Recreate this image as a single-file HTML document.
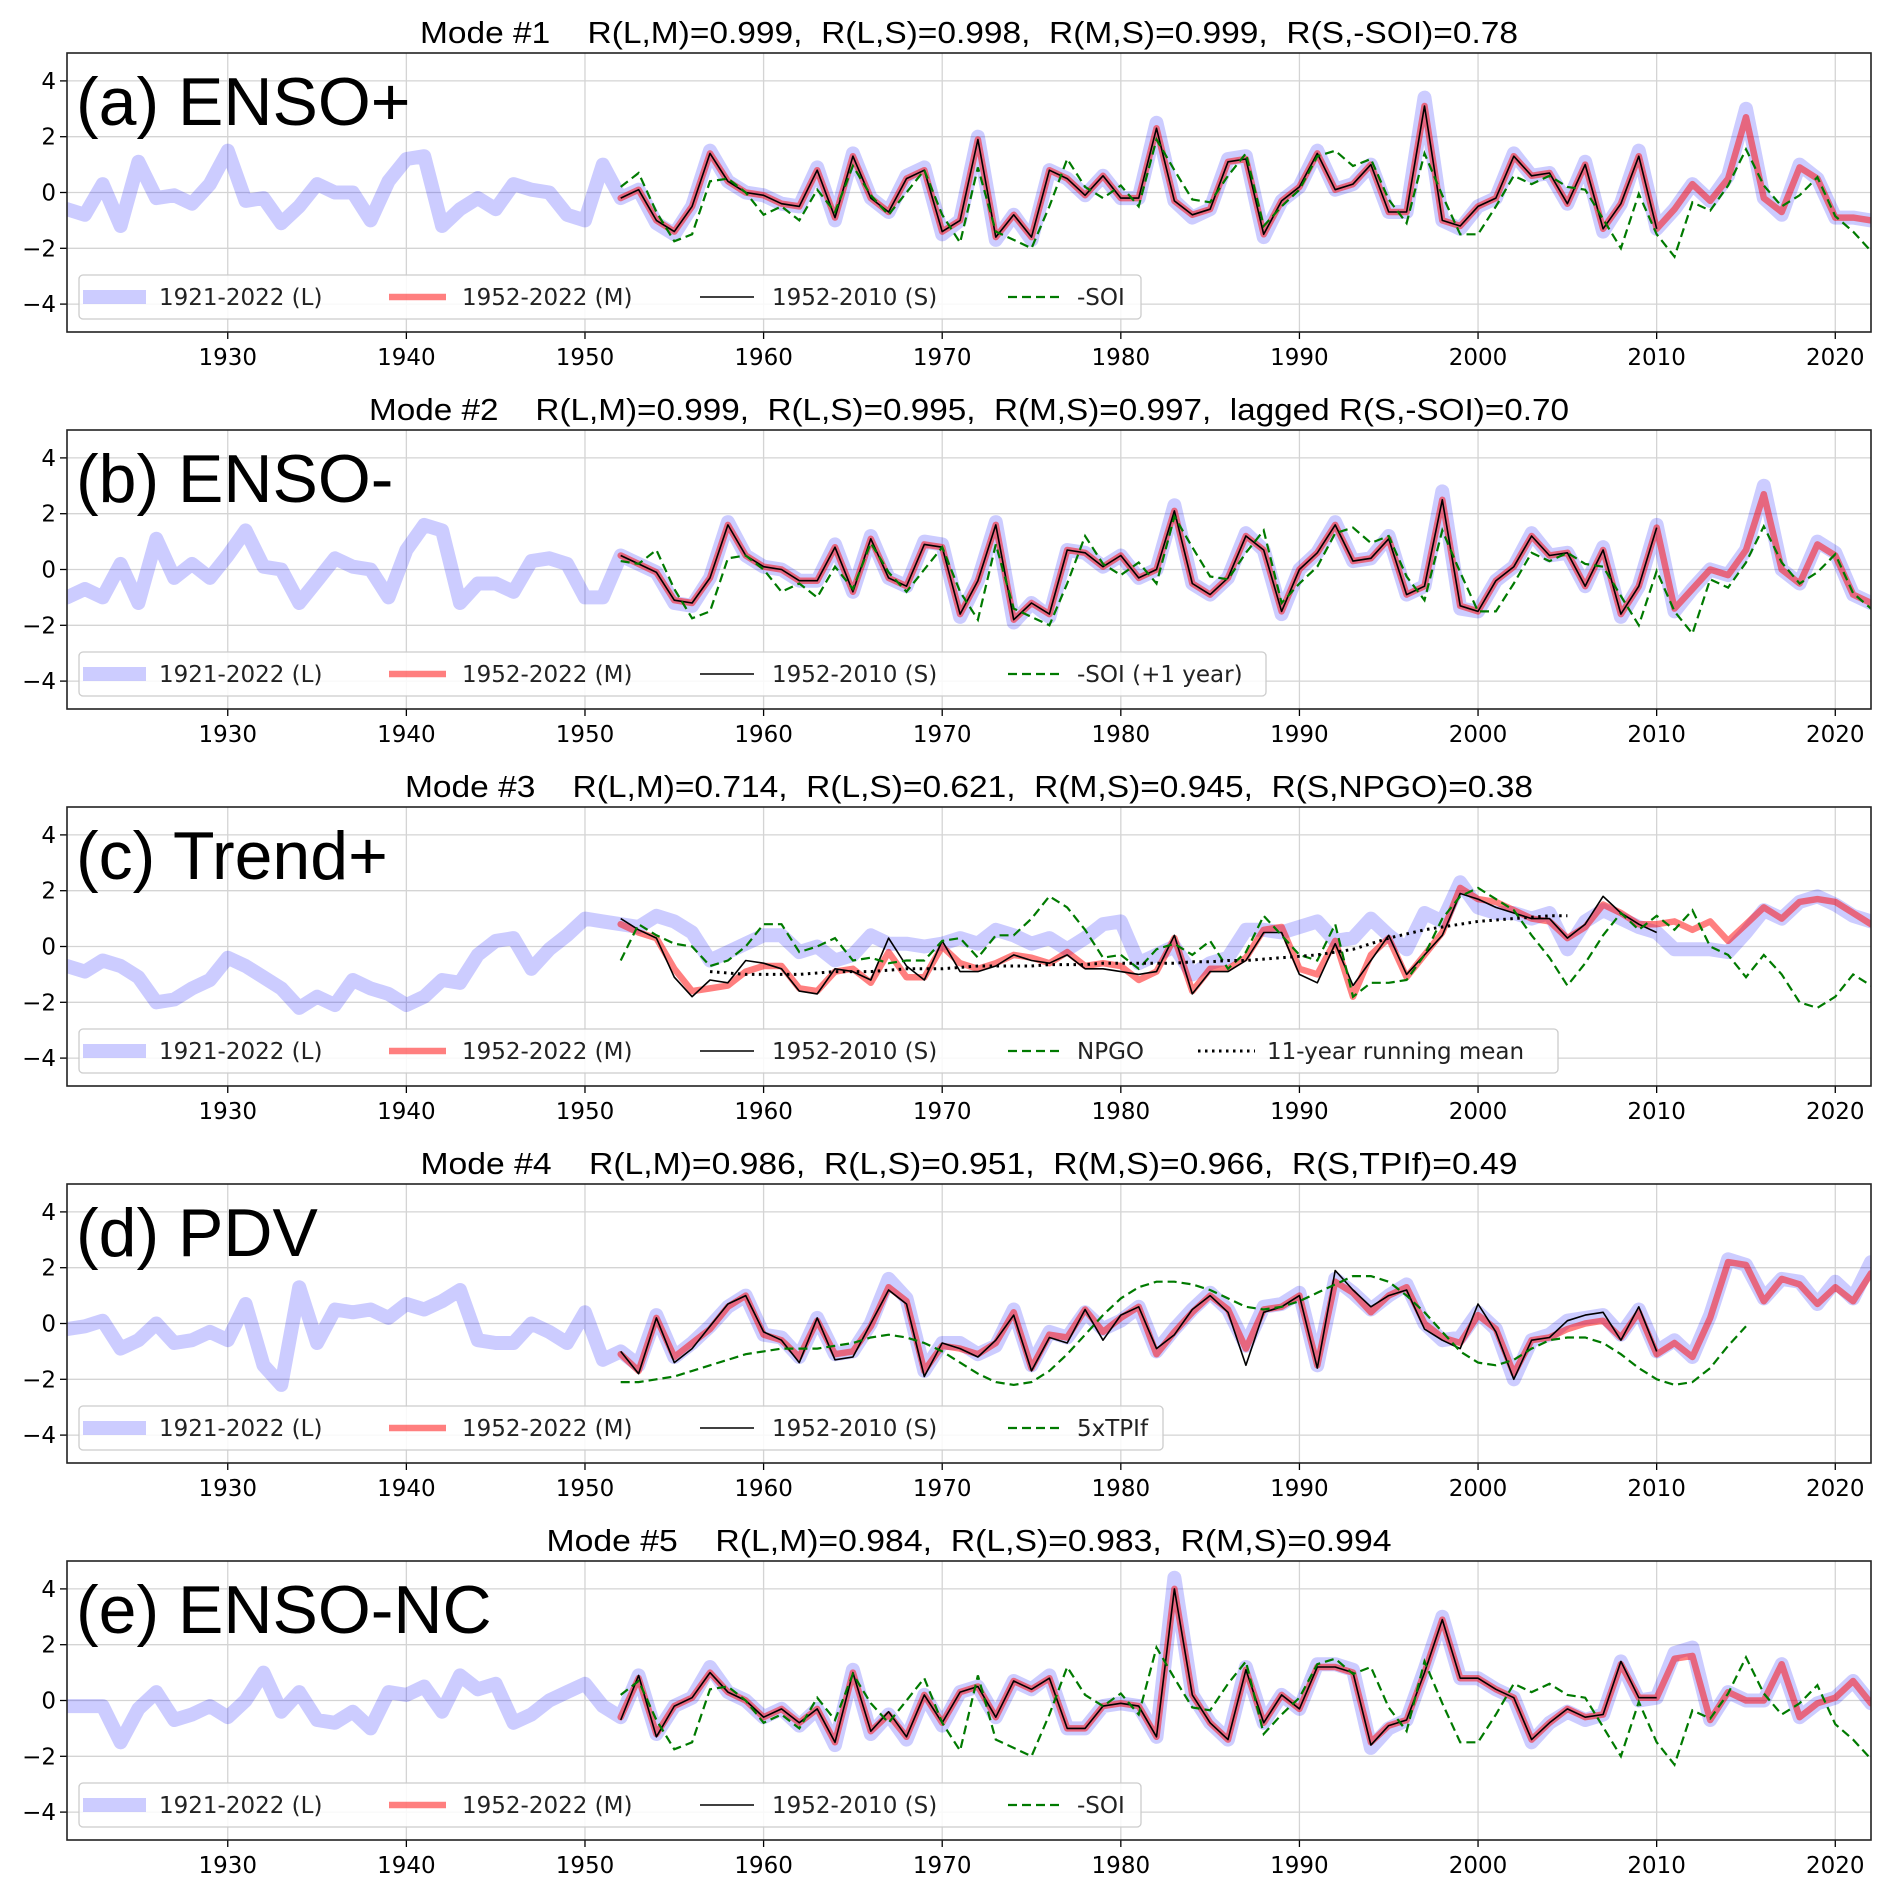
<!DOCTYPE html>
<html><head><meta charset="utf-8"><title>Modes</title>
<style>html,body{margin:0;padding:0;background:#fff}svg{display:block}text{white-space:pre}</style></head>
<body>
<svg id="chart" width="1892" height="1890" viewBox="0 0 1892 1890" xmlns="http://www.w3.org/2000/svg"></svg>
<script>
// ---------- data ----------
const xTicks = [1930,1940,1950,1960,1970,1980,1990,2000,2010,2020];
const yTicks = [-4,-2,0,2,4];
const yTickLabels = ["\u22124","\u22122","0","2","4"];
const startL = 1921, startM = 1952, startS = 1952;

const titles = [
 "Mode #1    R(L,M)=0.999,  R(L,S)=0.998,  R(M,S)=0.999,  R(S,-SOI)=0.78",
 "Mode #2    R(L,M)=0.999,  R(L,S)=0.995,  R(M,S)=0.997,  lagged R(S,-SOI)=0.70",
 "Mode #3    R(L,M)=0.714,  R(L,S)=0.621,  R(M,S)=0.945,  R(S,NPGO)=0.38",
 "Mode #4    R(L,M)=0.986,  R(L,S)=0.951,  R(M,S)=0.966,  R(S,TPIf)=0.49",
 "Mode #5    R(L,M)=0.984,  R(L,S)=0.983,  R(M,S)=0.994"
];
const titleWidths = [1098, 1200, 1128, 1097, 845];
const panelLabels = ["(a) ENSO+","(b) ENSO-","(c) Trend+","(d) PDV","(e) ENSO-NC"];
const refLabels = ["-SOI","-SOI (+1 year)","NPGO","5xTPIf","-SOI"];

// Panel a
const aL = [-0.6,-0.8,0.3,-1.2,1.1,-0.2,-0.1,-0.4,0.3,1.5, -0.3,-0.2,-1.1,-0.5,0.3,0.0,0.0,-1.0,0.4,1.2, 1.3,-1.2,-0.6,-0.2,-0.6,0.3,0.1,0.0,-0.8,-1.0, 1.0,
 -0.2,0.1,-1.1,-1.5,-0.5,1.5,0.4,0.0,-0.1,-0.4, -0.5,0.9,-1.0,1.4,-0.2,-0.7,0.6,0.9,-1.5,-1.0, 2.0,-1.7,-0.8,-1.7,0.8,0.5,-0.1,0.6,-0.2,-0.2, 2.5,-0.3,-0.9,-0.6,1.2,1.3,-1.6,-0.3,0.2,1.5, 0.1,0.3,1.0,-0.7,-0.7,3.4,-1.0,-1.3,-0.5,-0.2, 1.4,0.6,0.7,-0.4,1.1,-1.4,-0.4,1.5,-1.3,-0.6, 0.3,-0.3,0.6,3.0,-0.2,-0.8,1.0,0.5,-0.9,-0.9,-1.0];
const aM = [-0.2,0.1,-1.0,-1.4,-0.5,1.4,0.4,0.0,-0.1,-0.4, -0.5,0.8,-0.9,1.3,-0.2,-0.7,0.5,0.8,-1.4,-1.0, 1.9,-1.6,-0.8,-1.6,0.8,0.5,-0.1,0.6,-0.2,-0.2, 2.3,-0.3,-0.8,-0.6,1.1,1.2,-1.5,-0.3,0.2,1.4, 0.1,0.3,1.0,-0.7,-0.7,3.1,-1.0,-1.2,-0.5,-0.2, 1.3,0.6,0.7,-0.4,1.0,-1.3,-0.4,1.3,-1.3,-0.6, 0.3,-0.3,0.5,2.7,-0.2,-0.7,0.9,0.5,-0.9,-0.9,-1.0];
const aS = [-0.2,0.1,-1.0,-1.4,-0.5,1.4,0.4,0.0,-0.1,-0.4, -0.5,0.8,-0.9,1.3,-0.2,-0.7,0.5,0.8,-1.4,-1.0, 1.9,-1.6,-0.8,-1.6,0.8,0.5,-0.1,0.6,-0.2,-0.2, 2.3,-0.3,-0.8,-0.6,1.1,1.2,-1.5,-0.3,0.2,1.4, 0.1,0.3,1.0,-0.7,-0.7,3.1,-1.0,-1.2,-0.5,-0.2, 1.3,0.6,0.7,-0.4,1.0,-1.3,-0.4,1.3,-1.3];
const soi = [0.2,0.7,-0.7,-1.75,-1.5,0.4,0.5,0.0,-0.8,-0.5, -1.0,0.1,-0.7,0.95,-0.1,-0.8,0.0,0.8,-0.8,-1.8, 0.9,-1.4,-1.7,-2.0,-0.5,1.2,0.2,-0.2,0.25,-0.5, 1.9,0.8,-0.25,-0.35,0.6,1.4,-1.2,-0.5,0.1,1.3, 1.5,0.95,1.2,-0.25,-1.1,1.4,-0.1,-1.5,-1.5,-0.5, 0.6,0.3,0.6,0.2,0.1,-0.95,-2.0,-0.05,-1.5,-2.3, -0.35,-0.65,0.25,1.55,0.25,-0.5,-0.1,0.55,-0.85,-1.4,-2.1];
const soiStart = 1952;

// Panel b
const bL = [-1.0,-0.7,-1.0,0.2,-1.2,1.1,-0.3,0.2,-0.3,0.5, 1.4,0.1,0.0,-1.2,-0.4,0.4,0.1,0.0,-1.0,0.7, 1.6,1.4,-1.2,-0.5,-0.5,-0.8,0.3,0.4,0.2,-1.0, -1.0,
 0.5,0.2,-0.1,-1.2,-1.3,-0.3,1.7,0.5,0.1,0.0, -0.4,-0.4,0.9,-0.8,1.2,-0.3,-0.6,1.0,0.9,-1.7, -0.4,1.7,-1.9,-1.2,-1.7,0.7,0.6,0.1,0.5,-0.3, 0.0,2.3,-0.5,-0.9,-0.3,1.3,0.7,-1.6,0.0,0.6, 1.7,0.3,0.4,1.2,-0.9,-0.6,2.8,-1.4,-1.5,-0.4, 0.1,1.3,0.5,0.6,-0.6,0.8,-1.7,-0.6,1.6,-1.5, -0.7,0.0,-0.2,0.7,3.0,0.0,-0.5,1.0,0.6,-0.9,-1.2];
const bM = [0.5,0.2,-0.1,-1.1,-1.2,-0.3,1.6,0.5,0.1,0.0, -0.4,-0.4,0.8,-0.8,1.1,-0.3,-0.6,0.9,0.8,-1.6, -0.4,1.6,-1.8,-1.2,-1.6,0.7,0.6,0.1,0.5,-0.3, 0.0,2.1,-0.5,-0.9,-0.3,1.2,0.7,-1.5,0.0,0.6, 1.6,0.3,0.4,1.1,-0.9,-0.6,2.5,-1.3,-1.5,-0.4, 0.1,1.2,0.5,0.6,-0.6,0.7,-1.6,-0.6,1.5,-1.4, -0.7,0.0,-0.2,0.7,2.7,0.0,-0.5,0.9,0.5,-0.9,-1.2];
const bS = [0.5,0.2,-0.1,-1.1,-1.2,-0.3,1.6,0.5,0.1,0.0, -0.4,-0.4,0.8,-0.8,1.1,-0.3,-0.6,0.9,0.8,-1.6, -0.4,1.6,-1.8,-1.2,-1.6,0.7,0.6,0.1,0.5,-0.3, 0.0,2.1,-0.5,-0.9,-0.3,1.2,0.7,-1.5,0.0,0.6, 1.6,0.3,0.4,1.1,-0.9,-0.6,2.5,-1.3,-1.5,-0.4, 0.1,1.2,0.5,0.6,-0.6,0.7,-1.6,-0.6,1.5];
const soiLag = [0.3, 0.2,0.7,-0.7,-1.75,-1.5,0.4,0.5,0.0,-0.8, -0.5,-1.0,0.1,-0.7,0.95,-0.1,-0.8,0.0,0.8,-0.8, -1.8,0.9,-1.4,-1.7,-2.0,-0.5,1.2,0.2,-0.2,0.25, -0.5,1.9,0.8,-0.25,-0.35,0.6,1.4,-1.2,-0.5,0.1, 1.3,1.5,0.95,1.2,-0.25,-1.1,1.4,-0.1,-1.5,-1.5, -0.5,0.6,0.3,0.6,0.2,0.1,-0.95,-2.0,-0.05,-1.5, -2.3,-0.35,-0.65,0.25,1.55,0.25,-0.5,-0.1,0.55,-0.85,-1.4];

// Panel c
const cL = [-0.7,-0.9,-0.5,-0.7,-1.1,-2.0,-1.9,-1.5,-1.2,-0.4, -0.7,-1.1,-1.5,-2.2,-1.8,-2.1,-1.2,-1.5,-1.7,-2.1, -1.8,-1.2,-1.3,-0.3,0.2,0.3,-0.8,-0.1,0.4,1.0, 0.9,0.8,0.7,1.1,0.9,0.5,-0.5,-0.2,0.1,0.4, 0.4,-0.2,0.0,-0.5,-0.3,0.4,0.1,0.1,0.0,0.1, 0.3,0.1,0.6,0.4,0.1,0.3,-0.1,0.3,0.8,0.9, -0.6,-0.3,0.0,-1.0,-0.6,-0.4,0.6,0.6,0.5,0.7, 0.9,0.2,0.3,1.0,0.4,-0.1,1.2,0.9,2.3,1.4, 1.2,1.2,1.0,1.2,-0.1,0.9,1.3,1.0,0.7,0.5, -0.1,-0.1,-0.1,-0.2,0.5,1.3,1.0,1.6,1.8,1.5,1.1,0.9];
const cM = [0.8,0.5,0.3,-0.8,-1.6,-1.5,-1.4,-0.9,-0.7,-0.7, -1.5,-1.6,-0.9,-0.8,-1.3,-0.2,-1.1,-1.1,0.0,-0.6, -0.8,-0.6,-0.3,-0.4,-0.6,-0.2,-0.7,-0.6,-0.7,-1.2, -0.9,0.3,-1.6,-0.8,-0.8,-0.4,0.6,0.7,-0.8,-1.0, 0.2,-1.8,-0.3,0.3,-1.1,-0.3,0.5,2.1,1.7,1.6, 1.3,1.0,0.9,0.3,0.7,1.5,1.2,0.8,0.8,0.9, 0.6,0.9,0.2,0.8,1.4,1.0,1.6,1.7,1.6,1.2,0.8];
const cS = [1.0,0.6,0.3,-1.1,-1.8,-1.2,-1.3,-0.5,-0.6,-0.8, -1.6,-1.7,-0.8,-0.9,-1.2,0.3,-0.7,-1.2,0.2,-0.9, -0.9,-0.7,-0.3,-0.5,-0.6,-0.3,-0.8,-0.8,-0.9,-1.0, -0.9,0.4,-1.7,-0.9,-0.9,-0.5,0.5,0.5,-1.0,-1.3, 0.1,-1.4,-0.5,0.4,-1.0,-0.3,0.4,1.9,1.7,1.4, 1.2,1.0,1.0,0.3,0.8,1.8,1.2,0.8,0.5];
const npgo = [-0.5,0.8,0.4,0.1,0.0,-0.7,-0.5,0.0,0.8,0.8, -0.2,0.0,0.3,-0.5,-0.4,-0.6,-0.5,-0.5,0.2,0.3, -0.4,0.4,0.4,1.0,1.8,1.4,0.6,-0.4,-0.3,-0.8, -0.1,0.1,-0.3,0.2,-0.8,-0.2,1.1,0.4,-0.3,-0.5, 0.8,-1.8,-1.3,-1.3,-1.2,-0.3,1.0,1.8,2.1,1.7, 1.3,0.4,-0.4,-1.4,-0.6,0.4,1.2,0.6,1.1,0.6, 1.3,0.0,-0.3,-1.1,-0.3,-1.0,-2.0,-2.2,-1.8,-1.0,-1.4];
const runMean = [-0.9,-0.95,-1.0,-1.0,-1.0, -1.0,-0.95,-0.9,-0.9,-0.9, -0.85,-0.8,-0.8,-0.8,-0.75, -0.7,-0.7,-0.7,-0.7,-0.65, -0.65,-0.65,-0.6,-0.6,-0.6, -0.6,-0.6,-0.55,-0.55,-0.5, -0.5,-0.45,-0.4,-0.35,-0.3, -0.2,-0.1,0.1,0.3,0.45, 0.6,0.7,0.8,0.9,0.95, 1.0,1.05,1.1,1.1];
const runMeanStart = 1957;

// Panel d
const dL = [-0.2,-0.1,0.1,-0.9,-0.6,0.0,-0.7,-0.6,-0.3,-0.6, 0.7,-1.5,-2.2,1.3,-0.7,0.5,0.4,0.5,0.2,0.7, 0.5,0.8,1.2,-0.6,-0.7,-0.7,0.0,-0.3,-0.7,0.4, -1.3,-1.0,-1.5,0.3,-1.2,-0.7,-0.1,0.6,1.0,-0.4, -0.5,-1.2,0.2,-1.1,-1.0,0.0,1.6,0.9,-1.7,-0.7, -0.7,-1.1,-0.8,0.5,-1.5,-0.3,-0.5,0.4,-0.2,0.1, 0.6,-1.0,-0.2,0.5,1.1,0.5,-0.8,0.6,0.7,1.1, -1.5,1.6,1.1,0.5,1.0,1.4,0.0,-0.6,-0.5,0.4, -0.2,-2.0,-0.6,-0.4,0.1,0.2,0.3,-0.4,0.5,-1.0, -0.6,-1.2,0.3,2.3,2.1,0.9,1.6,1.5,0.7,1.5,0.9,2.2];
const dM = [-1.1,-1.7,0.2,-1.2,-0.7,-0.2,0.6,1.0,-0.4,-0.6, -1.2,0.1,-1.1,-1.0,-0.1,1.3,0.8,-1.7,-0.8,-0.9, -1.1,-0.7,0.4,-1.6,-0.4,-0.5,0.5,-0.3,0.2,0.6, -1.1,-0.3,0.4,1.0,0.5,-0.9,0.5,0.6,1.0,-1.5, 1.5,1.1,0.4,1.0,1.3,0.0,-0.5,-0.7,0.3,-0.2, -1.8,-0.6,-0.5,-0.2,0.0,0.1,-0.5,0.4,-1.1,-0.7, -1.2,0.2,2.2,2.1,0.8,1.6,1.4,0.7,1.3,0.8,1.8];
const dS = [-1.0,-1.8,0.2,-1.4,-0.9,-0.1,0.7,1.0,-0.3,-0.6, -1.4,0.2,-1.3,-1.2,0.0,1.2,0.7,-1.9,-0.7,-0.9, -1.2,-0.6,0.3,-1.7,-0.5,-0.7,0.5,-0.6,0.3,0.6, -0.9,-0.4,0.5,1.0,0.4,-1.5,0.4,0.6,1.0,-1.6, 1.9,1.2,0.6,1.0,1.2,-0.2,-0.6,-0.9,0.7,-0.3, -2.0,-0.6,-0.5,0.1,0.3,0.4,-0.6,0.6,-1.0];
const tpif = [-2.1,-2.1,-2.0,-1.9,-1.7, -1.5,-1.3,-1.1,-1.0,-0.9, -0.9,-0.9,-0.8,-0.7,-0.5, -0.4,-0.5,-0.7,-1.0,-1.4, -1.8,-2.1,-2.2,-2.1,-1.7, -1.1,-0.4,0.3,0.9,1.3, 1.5,1.5,1.4,1.2,0.9, 0.6,0.5,0.6,0.8,1.1, 1.4,1.7,1.7,1.5,1.0, 0.4,-0.3,-1.0,-1.4,-1.5, -1.3,-0.9,-0.6,-0.5,-0.5, -0.7,-1.1,-1.6,-2.0,-2.2, -2.1,-1.6,-0.8,-0.1];
const tpifStart = 1952;

// Panel e
const eL = [-0.2,-0.2,-0.2,-1.5,-0.3,0.3,-0.7,-0.5,-0.2,-0.6, 0.0,1.0,-0.4,0.3,-0.7,-0.8,-0.4,-1.0,0.3,0.2, 0.5,-0.4,0.9,0.4,0.6,-0.8,-0.5,0.0,0.3,0.6, -0.2,-0.6,0.9,-1.2,-0.2,0.1,1.2,0.3,0.0,-0.6, -0.3,-0.9,-0.3,-1.6,1.1,-1.2,-0.5,-1.4,0.2,-0.9, 0.3,0.5,-0.6,0.7,0.4,0.9,-1.0,-1.0,-0.2,-0.1, -0.2,-1.3,4.4,0.2,-0.8,-1.4,1.2,-0.8,0.2,-0.3, 1.3,1.3,1.1,-1.7,-1.0,-0.7,1.1,3.0,0.8,0.8, 0.4,0.1,-1.5,-0.8,-0.4,-0.7,-0.5,1.4,0.0,0.1, 1.7,1.9,-0.7,0.3,0.0,0.0,1.3,-0.6,-0.1,0.1,0.7,-0.1];
const eM = [-0.6,0.8,-1.2,-0.2,0.1,1.0,0.3,0.0,-0.6,-0.3, -0.8,-0.3,-1.5,1.0,-1.1,-0.5,-1.3,0.2,-0.8,0.3, 0.5,-0.6,0.7,0.4,0.8,-1.0,-1.0,-0.2,-0.1,-0.2, -1.3,4.0,0.2,-0.8,-1.4,1.1,-0.8,0.2,-0.3,1.2, 1.2,1.0,-1.5,-0.9,-0.7,1.0,2.9,0.8,0.8,0.4, 0.1,-1.4,-0.8,-0.3,-0.6,-0.5,1.3,0.1,0.1,1.5, 1.6,-0.7,0.3,0.0,0.0,1.3,-0.6,-0.1,0.1,0.7,-0.1];
const eS = [-0.7,0.9,-1.3,-0.2,0.1,1.0,0.3,0.0,-0.6,-0.3, -0.8,-0.3,-1.5,1.0,-1.1,-0.4,-1.3,0.2,-0.8,0.3, 0.5,-0.6,0.7,0.4,0.8,-1.0,-1.0,-0.2,-0.1,-0.2, -1.3,4.0,0.2,-0.8,-1.4,1.1,-0.8,0.2,-0.3,1.2, 1.2,1.0,-1.6,-0.9,-0.7,1.0,2.9,0.8,0.8,0.4, 0.1,-1.4,-0.8,-0.3,-0.6,-0.5,1.4,0.1,0.1];

// ---------- layout ----------
const NS = "http://www.w3.org/2000/svg";
const svg = document.getElementById('chart');
const X0 = 67, X1 = 1871, YMIN = 1921, YMAX = 2022;
const PH = 279, PTOP0 = 53, PSTEP = 377;
function xs(yr){ return X0 + (yr - YMIN) * (X1 - X0) / (YMAX - YMIN); }
function ys(v, top){ return top + PH/2 - v * (PH / 10); }
function mk(tag, attrs, parent){
  const e = document.createElementNS(NS, tag);
  for (const k in attrs) e.setAttribute(k, attrs[k]);
  (parent || svg).appendChild(e);
  return e;
}
function pathFor(vals, start, top){
  return vals.map((v,i)=> (i?'L':'M') + xs(start+i).toFixed(1) + ' ' + ys(v,top).toFixed(1)).join(' ');
}

const panels = [
 {L:aL, M:aM, S:aS, R:soi, rStart:soiStart},
 {L:bL, M:bM, S:bS, R:soiLag, rStart:1952},
 {L:cL, M:cM, S:cS, R:npgo, rStart:1952, RM:runMean},
 {L:dL, M:dM, S:dS, R:tpif, rStart:tpifStart},
 {L:eL, M:eM, S:eS, R:soi, rStart:soiStart}
];
const legendW = [1062, 1187, 1479, 1084, 1062];

panels.forEach((p, i) => {
  const top = PTOP0 + i * PSTEP;
  const g = mk('g', {});
  
  

  const clip = mk('clipPath', {id:'clip'+i}, g);
  mk('rect', {x:X0, y:top, width:X1-X0, height:PH}, clip);

  xTicks.forEach(t => {
    const l = mk('line', {x1:xs(t), x2:xs(t), y1:top, y2:top+PH, stroke:'#d4d4d4', 'stroke-width':1.3}, g);
    
    
    const tk = mk('line', {x1:xs(t), x2:xs(t), y1:top+PH, y2:top+PH+7, stroke:'#000', 'stroke-width':1.3}, g);
    
    
    const tx = mk('text', {x:xs(t), y:top+PH+33, 'text-anchor':'middle', 'font-family':'"DejaVu Sans", sans-serif', 'font-size':23, fill:'#000'}, g);
    tx.textContent = t;
    
    
  });
  yTicks.forEach((t, j) => {
    const l = mk('line', {x1:X0, x2:X1, y1:ys(t,top), y2:ys(t,top), stroke:'#d4d4d4', 'stroke-width':1.3}, g);
    
    
    const tk = mk('line', {x1:X0-7, x2:X0, y1:ys(t,top), y2:ys(t,top), stroke:'#000', 'stroke-width':1.3}, g);
    
    
    const tx = mk('text', {x:X0-11, y:ys(t,top)+8, 'text-anchor':'end', 'font-family':'"DejaVu Sans", sans-serif', 'font-size':23, fill:'#000'}, g);
    tx.textContent = yTickLabels[j];
    
    
  });

  const cg = mk('g', {'clip-path':'url(#clip'+i+')'}, g);
  const lL = mk('path', {d:pathFor(p.L, startL, top), fill:'none', stroke:'#0000ff', 'stroke-opacity':0.2, 'stroke-width':14, 'stroke-linejoin':'round', 'stroke-linecap':'round'}, cg);
  
  
  const lM = mk('path', {d:pathFor(p.M, startM, top), fill:'none', stroke:'#ff0000', 'stroke-opacity':0.5, 'stroke-width':6.5, 'stroke-linejoin':'round', 'stroke-linecap':'round'}, cg);
  
  
  const lS = mk('path', {d:pathFor(p.S, startS, top), fill:'none', stroke:'#000', 'stroke-width':1.6, 'stroke-linejoin':'round'}, cg);
  
  
  const lR = mk('path', {d:pathFor(p.R, p.rStart, top), fill:'none', stroke:'#007a00', 'stroke-width':2.2, 'stroke-dasharray':'9 5'}, cg);
  
  
  if (p.RM) {
    const lRM = mk('path', {d:pathFor(p.RM, runMeanStart, top), fill:'none', stroke:'#000', 'stroke-width':3, 'stroke-dasharray':'2.5 4.5'}, cg);
    
    
  }

  const fr = mk('rect', {x:X0, y:top, width:X1-X0, height:PH, fill:'none', stroke:'#222', 'stroke-width':1.6}, g);
  
  

  const tt = mk('text', {x:(X0+X1)/2, y:top-10, 'text-anchor':'middle', 'font-family':'"Liberation Sans", sans-serif', 'font-size':31, fill:'#000', textLength:titleWidths[i], lengthAdjust:'spacingAndGlyphs'}, g);
  tt.textContent = titles[i];
  
  

  const pl = mk('text', {x:76, y:top+72, 'font-family':'"Liberation Sans", sans-serif', 'font-size':68, fill:'#000'}, g);
  pl.textContent = panelLabels[i];
  
  

  const lg = mk('g', {}, g);
  
  
  mk('rect', {x:79, y:top+222, width:legendW[i], height:44, rx:4, fill:'#fff', 'fill-opacity':0.85, stroke:'#cccccc', 'stroke-width':1.3}, lg);
  const ly = top + 244;
  const entries = [
    {x:83, w:63, tx:159, label:'1921-2022 (L)', st:{stroke:'#0000ff','stroke-opacity':0.2,'stroke-width':14}},
    {x:389, w:57, tx:462, label:'1952-2022 (M)', st:{stroke:'#ff0000','stroke-opacity':0.5,'stroke-width':6.5}},
    {x:700, w:54, tx:772, label:'1952-2010 (S)', st:{stroke:'#000','stroke-width':1.6}},
    {x:1008, w:54, tx:1077, label:refLabels[i], st:{stroke:'#007a00','stroke-width':2.2,'stroke-dasharray':'9 5'}}
  ];
  if (p.RM) entries.push({x:1198, w:57, tx:1267, label:'11-year running mean', st:{stroke:'#000','stroke-width':3,'stroke-dasharray':'2.5 4.5'}});
  entries.forEach(en => {
    const eg = mk('g', {}, lg);
    
    
    const a = Object.assign({x1:en.x, x2:en.x+en.w, y1:ly, y2:ly}, en.st);
    mk('line', a, eg);
    const t = mk('text', {x:en.tx, y:ly+8, 'font-family':'"DejaVu Sans", sans-serif', 'font-size':23, fill:'#222'}, eg);
    t.textContent = en.label;
  });
});
</script>
</body></html>
